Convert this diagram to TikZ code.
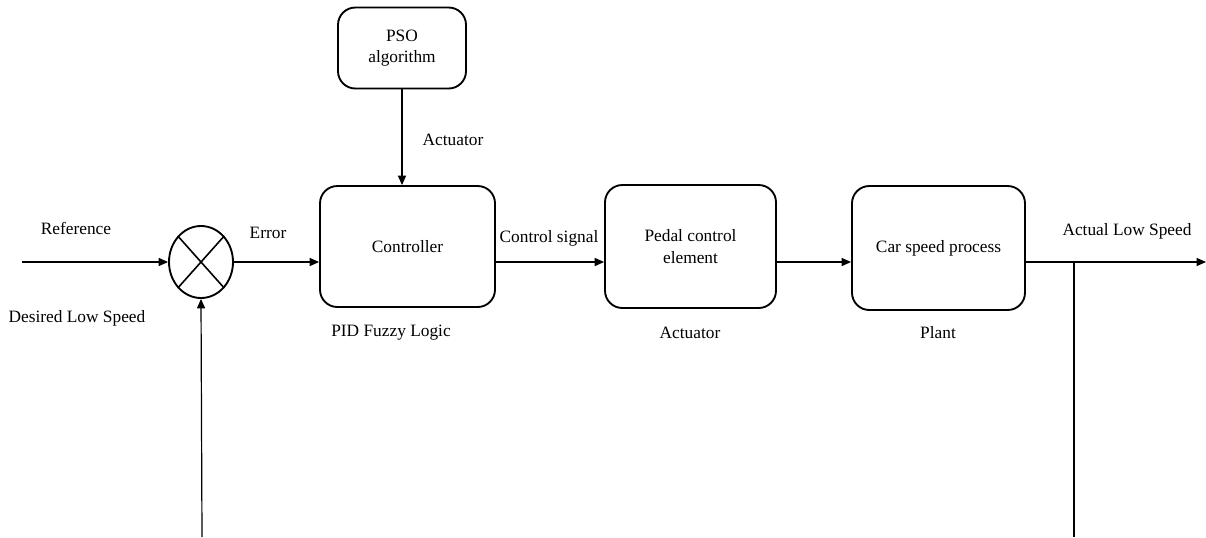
\documentclass[tikz,border=0pt]{standalone}
\usepackage{fontspec}
\setmainfont{Liberation Serif}
\newfontfamily\diagfont{Liberation Serif}
\usetikzlibrary{arrows.meta,shapes.geometric}

\tikzset{
  block/.style={draw, line width=1.4pt, rounded corners=13pt, align=center,
    font=\diagfont\fontsize{13}{16}\selectfont},
  lbl/.style={font=\diagfont\fontsize{13}{16}\selectfont},
  sig/.style={line width=0.9pt, -{Triangle[length=7pt,width=6pt]}},
  wire/.style={line width=0.9pt},
}

\begin{document}
\begin{tikzpicture}[x=0.75pt, y=-0.75pt]

    % Frame (pixel units of the reference)
    \useasboundingbox (0,0) rectangle (1206,537);
    \def\busY{262} % height of the signal line

    % Blocks
    \node[block, minimum width=128*0.75pt, minimum height=81*0.75pt] (pso) at (402,48) {PSO\\algorithm};
    \node[block, minimum width=175*0.75pt, minimum height=121*0.75pt] (ctrl) at (407.5,246.5) {Controller};
    \node[block, minimum width=171*0.75pt, minimum height=123*0.75pt] (pedal) at (690.5,246.5) {Pedal control\\element};
    \node[block, minimum width=173*0.75pt, minimum height=124*0.75pt] (car) at (938.5,248) {Car speed process};

    % Summing junction
    \node[ellipse, draw, line width=1.4pt, minimum width=64*0.75pt, minimum height=72*0.75pt, inner sep=0pt] (sum) at (201,\busY) {};
    \draw[line width=1.2pt] (sum.north east) -- (sum.south west);
    \draw[line width=1.2pt] (sum.north west) -- (sum.south east);

    % Free ends
    \coordinate (bus) at (0,\busY);
    \coordinate (ref) at (22,\busY);
    \coordinate (out) at (1206,\busY);
    \coordinate (tap) at (1074,\busY);
    \coordinate (fbR) at (1074,537);
    \coordinate (fbL) at (202,537);

    % Signals
    \draw[sig] (ref) -- (sum.west);
    \draw[sig] (sum.east) -- (ctrl.west |- bus);
    \draw[sig] (pso.south) -- (pso.south |- ctrl.north);
    \draw[sig] (ctrl.east |- bus) -- (pedal.west |- bus);
    \draw[sig] (pedal.east |- bus) -- (car.west |- bus);
    \draw[sig] (car.east |- bus) -- (out);

    % Feedback (cut off at the bottom)
    \draw[wire] (tap) -- (fbR);
    \draw[sig] (fbL) -- (sum.south);

    % Labels
    \node[lbl] (lref) at (76,228) {Reference};
    \node[lbl] (ldes) at (77,318) {Desired Low Speed};
    \node[lbl] (lerr) at (268,233) {Error};
    \node[lbl] (lact1) at (453,140) {Actuator};
    \node[lbl] (lpid) at (391,333) {PID Fuzzy Logic};
    \node[lbl] (lcs) at (549,238) {Control signal};
    \node[lbl] (lact2) at (690,333) {Actuator};
    \node[lbl] (lplant) at (938,333) {Plant};
    \node[lbl] (lout) at (1127,231) {Actual Low Speed};

\end{tikzpicture}
\end{document}
